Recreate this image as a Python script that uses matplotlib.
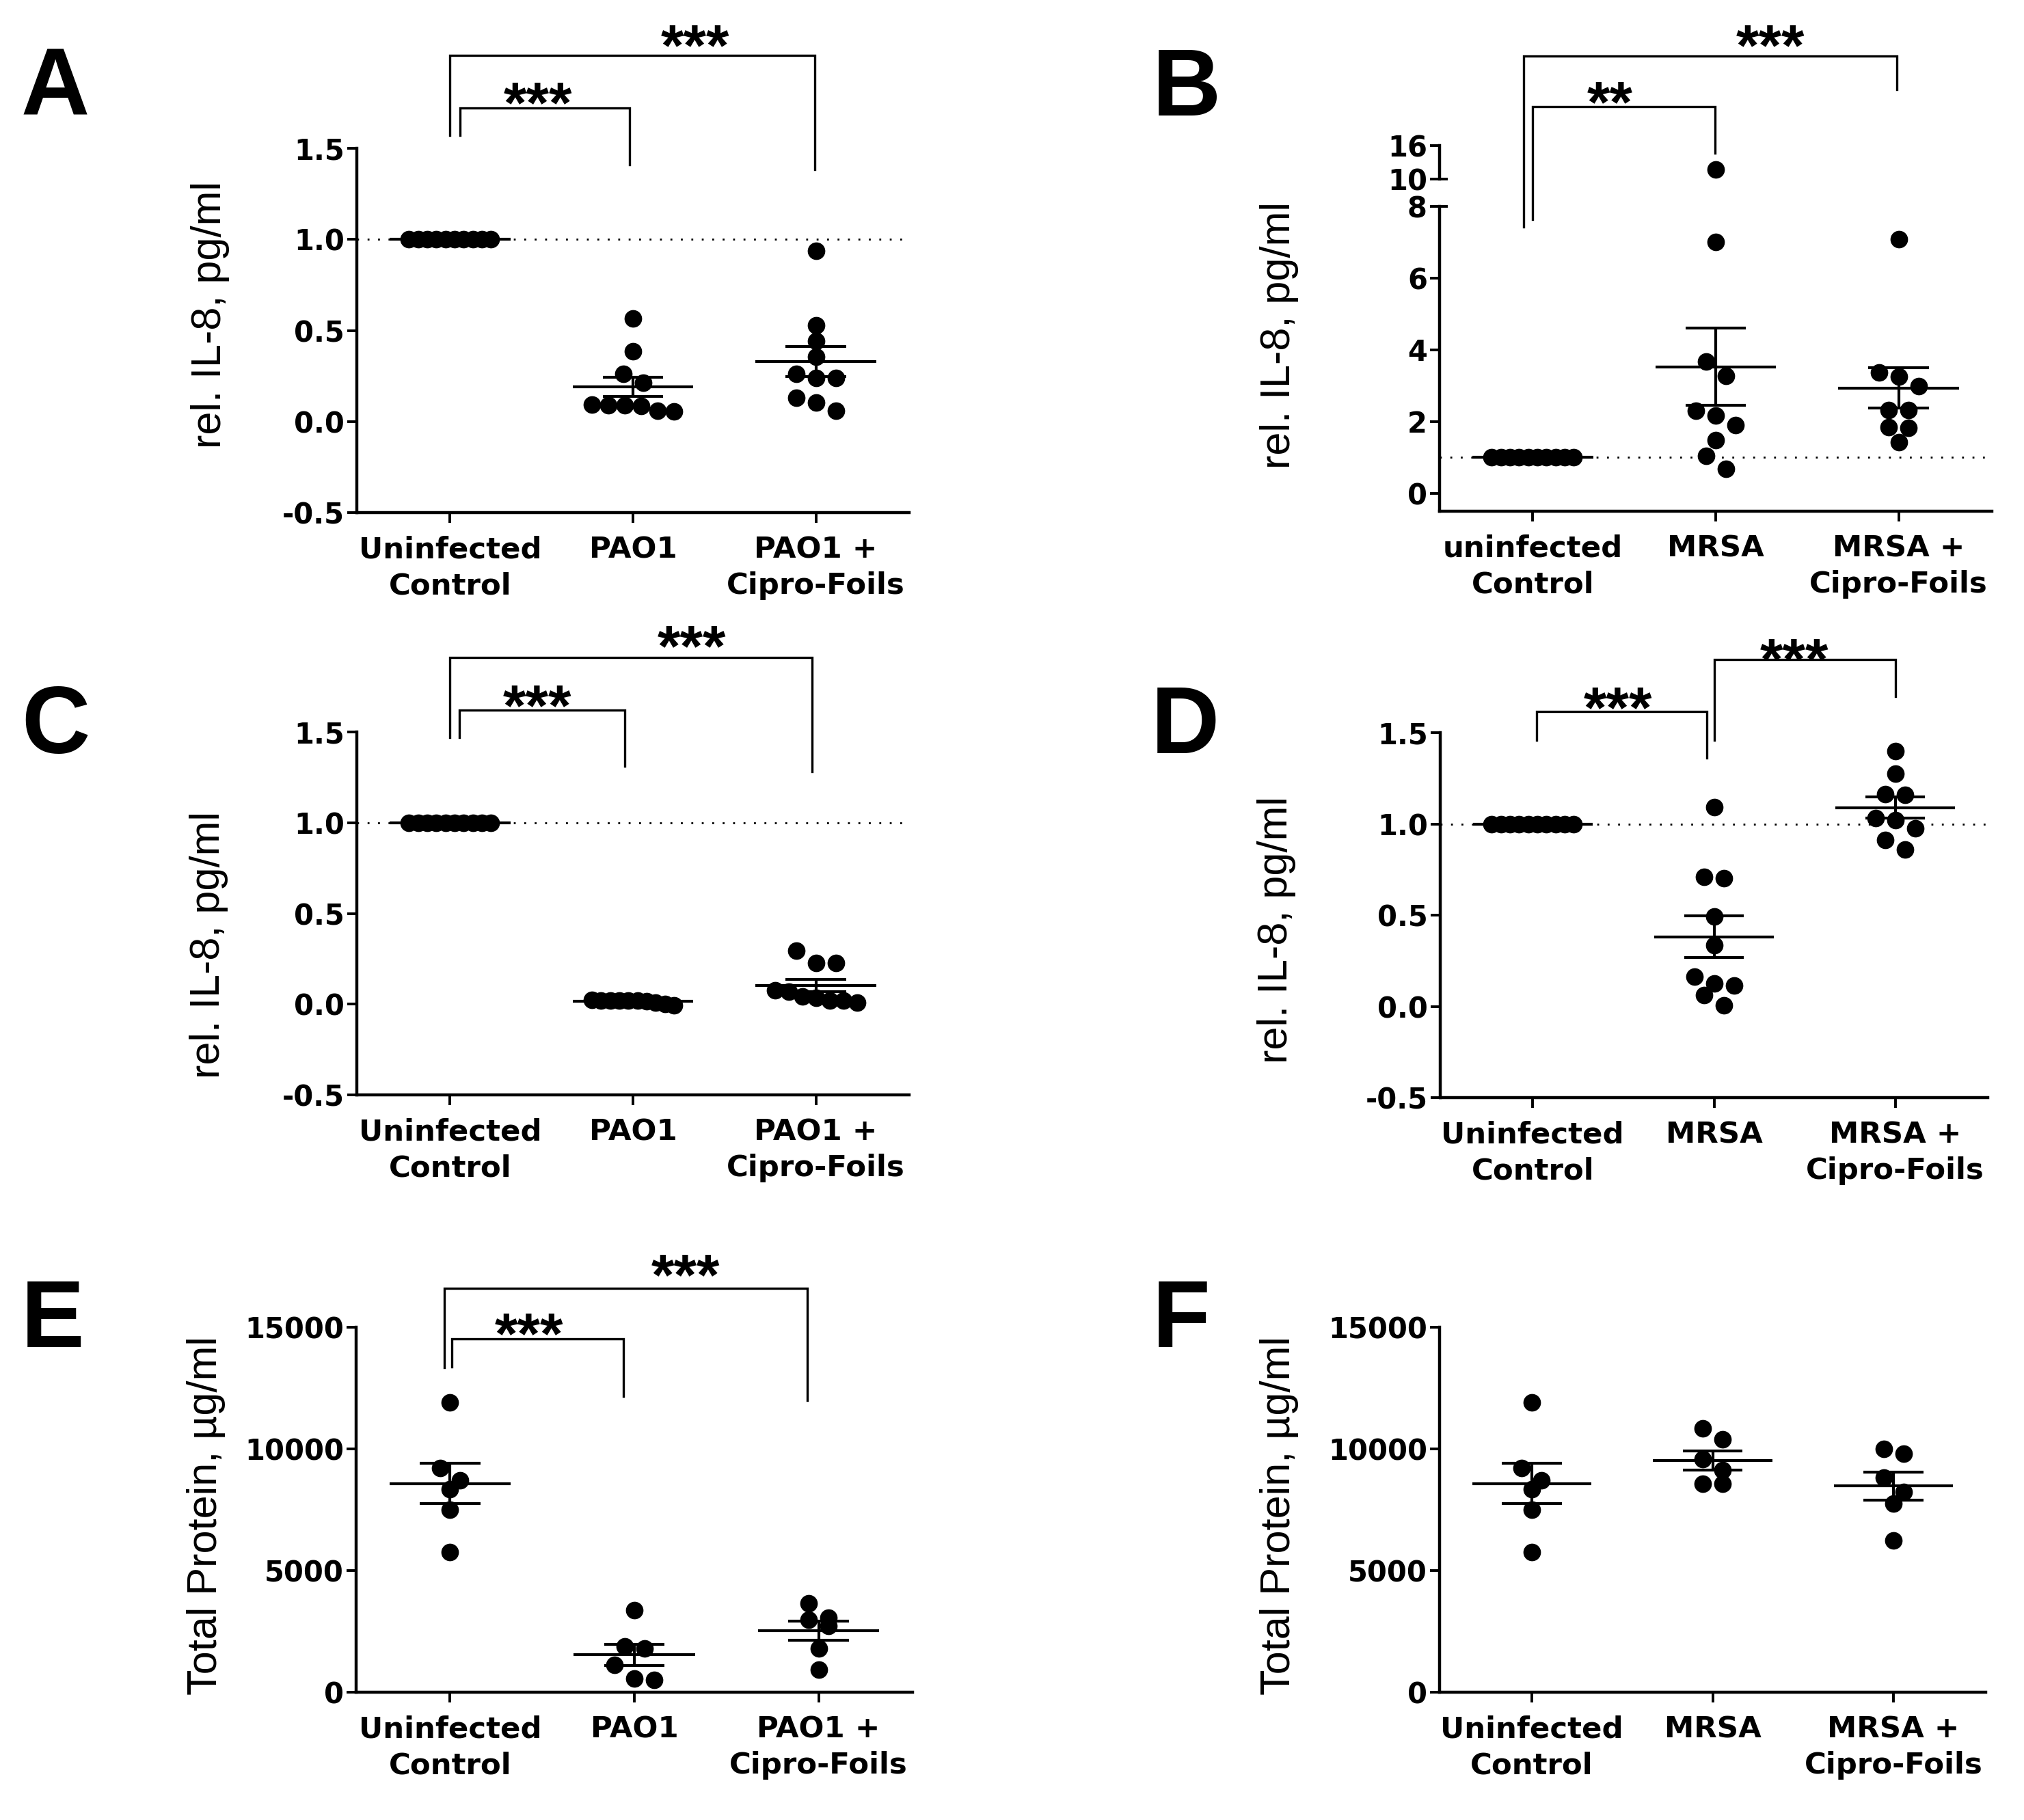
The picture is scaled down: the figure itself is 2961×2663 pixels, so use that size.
import numpy as np
import matplotlib
matplotlib.use("Agg")
import matplotlib.pyplot as plt
from matplotlib import transforms

plt.rcParams['axes.unicode_minus'] = False

# ---------------- data ----------------
cats_pao1 = ["Uninfected\nControl", "PAO1", "PAO1 +\nCipro-Foils"]
cats_mrsa_b = ["uninfected\nControl", "MRSA", "MRSA +\nCipro-Foils"]
cats_mrsa = ["Uninfected\nControl", "MRSA", "MRSA +\nCipro-Foils"]

a_control = [1.0] * 10
a_pao1 = [0.564, 0.387, 0.263, 0.212, 0.094, 0.090, 0.090, 0.086, 0.059, 0.056]
a_cipro = [0.937, 0.529, 0.441, 0.356, 0.260, 0.238, 0.238, 0.130, 0.105, 0.059]

b_control = [1.0] * 10
b_mrsa = [11.7, 7.0, 3.68, 3.28, 2.31, 2.17, 1.91, 1.49, 1.05, 0.69]
b_cipro = [7.09, 3.37, 3.26, 2.99, 2.33, 2.33, 1.84, 1.82, 1.42]

c_control = [1.0] * 10
c_pao1 = [0.025, 0.020, 0.020, 0.020, 0.020, 0.018, 0.015, 0.010, 0.000, -0.005]
c_cipro = [0.296, 0.226, 0.226, 0.078, 0.068, 0.043, 0.034, 0.018, 0.018, 0.009]

d_control = [1.0] * 10
d_mrsa = [1.093, 0.711, 0.704, 0.493, 0.337, 0.164, 0.124, 0.115, 0.061, 0.007]
d_cipro = [1.40, 1.275, 1.164, 1.161, 1.033, 1.021, 0.977, 0.911, 0.86]

e_control = [11900, 9220, 8720, 8330, 7500, 5750]
e_pao1 = [3380, 1870, 1800, 1110, 575, 505]
e_cipro = [3660, 3060, 2970, 2730, 1800, 935]

f_control = [11900, 9220, 8720, 8330, 7500, 5750]
f_mrsa = [10850, 10390, 9580, 9120, 8580, 8580]
f_cipro = [10010, 9800, 8810, 8230, 7760, 6250]

il8_ticks = [-0.5, 0.0, 0.5, 1.0, 1.5]
il8_ticklabels = ["-0.5", "0.0", "0.5", "1.0", "1.5"]
b_low_ticks = [0, 2, 4, 6, 8]
b_high_ticks = [10, 16]
prot_ticks = [0, 5000, 10000, 15000]

il8_label = "rel. IL-8, pg/ml"
prot_label = "Total Protein, \u00b5g/ml"

# ---------------- figure ----------------
W, H = 2961, 2663
fig = plt.figure(figsize=(W / 100, H / 100), dpi=100)

YTICKFONT = dict(family="DejaVu Sans", weight="bold", size=30)
XTICKFONT = dict(family="DejaVu Sans", weight="bold", size=31.3)
LW_SPINE = 3.2
LW_MARK = 3.0


def px_axes(left, top, right, bottom):
    ax = fig.add_axes([left / W, 1 - bottom / H, (right - left) / W, (bottom - top) / H])
    ax.set_facecolor("none")
    return ax


def style(ax, ylim, yticks, ylabels, cats=None):
    for s in ["top", "right"]:
        ax.spines[s].set_visible(False)
    ax.spines["left"].set_linewidth(LW_SPINE)
    ax.spines["bottom"].set_linewidth(LW_SPINE)
    ax.set_xlim(-0.51, 2.51)
    ax.set_ylim(*ylim)
    ax.set_yticks(yticks)
    ax.set_yticklabels(ylabels, fontdict=YTICKFONT)
    ax.tick_params(axis="y", length=10, width=2.8, pad=3)
    if cats is not None:
        ax.set_xticks([0, 1, 2])
        ax.set_xticklabels(cats, fontdict=XTICKFONT, linespacing=1.33)
        ax.tick_params(axis="x", length=11, width=2.8, pad=13)
    else:
        ax.set_xticks([])


def swarm_offsets(ax, vals, d_px=24, base=29, maxspan=120):
    vals = np.asarray(vals, float)
    p0 = ax.transData.transform((0, 0))
    p1 = ax.transData.transform((1, 1))
    xpx = p1[0] - p0[0]
    ypx = p1[1] - p0[1]
    order = np.argsort(-vals, kind="stable")
    offs = np.zeros(len(vals))
    i = 0
    while i < len(order):
        start = vals[order[i]]
        row = [order[i]]
        j = i + 1
        while j < len(order) and (start - vals[order[j]]) * ypx < 0.9 * d_px:
            row.append(order[j])
            j += 1
        k = len(row)
        if k > 1:
            sp = min(base, maxspan / (k - 1))
            pos = (np.arange(k) - (k - 1) / 2) * sp
            for idx, p in zip(row, pos):
                offs[idx] = p / xpx
        i = j
    return offs


def draw_group(ax, x, vals, offs, stats=True):
    vals = np.asarray(vals, float)
    ax.plot(x + offs, vals, "o", ms=17.5, color="black", mec="black", zorder=3, clip_on=True)
    if not stats:
        return
    m = vals.mean()
    sem = vals.std(ddof=1) / np.sqrt(len(vals))
    kw = dict(color="black", lw=LW_MARK, zorder=4, solid_capstyle="butt")
    ax.plot([x - 0.33, x + 0.33], [m, m], **kw)
    ax.plot([x - 0.165, x + 0.165], [m + sem, m + sem], **kw)
    ax.plot([x - 0.165, x + 0.165], [m - sem, m - sem], **kw)
    ax.plot([x, x], [m - sem, m + sem], **kw)


def bracket(ax, xl, xr, ytop, ylb, yrb):
    ax.plot([xl, xl, xr, xr], [ylb, ytop, ytop, yrb], color="black", lw=2.4,
            clip_on=False, solid_joinstyle="miter", zorder=5)


def stars(ax, x, y, s, fs=62):
    tr = transforms.offset_copy(ax.transData, fig=fig, y=-0.57 * fs, units="points")
    ax.text(x, y, s, transform=tr, ha="center", va="baseline", fontsize=fs,
            family="Liberation Sans", fontweight="bold", clip_on=False)


def ylabel_px(x, y, s):
    fig.text(x / W, 1 - y / H, s, rotation=90, ha="center", va="center",
             fontsize=44, family="Liberation Sans")


def letter_px(x, y, s):
    fig.text(x / W, 1 - y / H, s, ha="left", va="baseline", fontsize=100,
             fontweight="bold", family="Liberation Sans")


def refline(ax):
    ax.axhline(1.0, color="black", lw=2.0, ls=(0, (1, 4.5)), zorder=1)


def fill_panel(ax, groups):
    for x, vals in enumerate(groups):
        draw_group(ax, x, vals, swarm_offsets(ax, vals))


# ---------------- panel A ----------------
axA = px_axes(522, 217, 1330, 750)
style(axA, (-0.5, 1.5), il8_ticks, il8_ticklabels, cats_pao1)
refline(axA)
fill_panel(axA, [a_control, a_pao1, a_cipro])
bracket(axA, 0.056, 0.98, 1.72, 1.57, 1.41)
bracket(axA, 0.0, 1.995, 2.01, 1.57, 1.384)
stars(axA, 0.48, 1.826, "***")
stars(axA, 1.34, 2.14, "***")

# ---------------- panel C ----------------
axC = px_axes(522, 1071, 1330, 1602)
style(axC, (-0.5, 1.5), il8_ticks, il8_ticklabels, cats_pao1)
refline(axC)
fill_panel(axC, [c_control, c_pao1, c_cipro])
bracket(axC, 0.05, 0.957, 1.62, 1.47, 1.31)
bracket(axC, 0.0, 1.98, 1.91, 1.47, 1.28)
stars(axC, 0.475, 1.72, "***")
stars(axC, 1.32, 2.05, "***")

# ---------------- panel E ----------------
axE = px_axes(521, 1942, 1335, 2476)
style(axE, (0, 15000), prot_ticks, [str(t) for t in prot_ticks], cats_pao1)
fill_panel(axE, [e_control, e_pao1, e_cipro])
bracket(axE, 0.01, 0.94, 14515, 13366, 12169)
bracket(axE, -0.03, 1.94, 16600, 13350, 12000)
stars(axE, 0.43, 15296, "***")
stars(axE, 1.28, 17718, "***")

# ---------------- panel B (broken axis) ----------------
axB = px_axes(2106, 302, 2914, 748)
style(axB, (-0.5, 8), b_low_ticks, [str(t) for t in b_low_ticks], cats_mrsa_b)
axBt = px_axes(2106, 213, 2914, 262)
style(axBt, (10, 16), b_high_ticks, [str(t) for t in b_high_ticks], None)
axBt.spines["bottom"].set_visible(False)
refline(axB)
for x, vals in enumerate([b_control, b_mrsa, b_cipro]):
    offs = swarm_offsets(axB, vals)
    draw_group(axB, x, vals, offs)
    draw_group(axBt, x, vals, offs, stats=False)
brk = transforms.blended_transform_factory(axB.transAxes, axB.transData)
axB.plot([0, 12 / 808], [8, 8], transform=brk, color="black", lw=2.8, clip_on=False,
         solid_capstyle="butt")
brk2 = transforms.blended_transform_factory(axBt.transAxes, axBt.transData)
axBt.plot([0, 12 / 808], [10, 10], transform=brk2, color="black", lw=2.8, clip_on=False,
          solid_capstyle="butt")
bracket(axB, 0.0, 0.996, 10.78, 7.64, 9.49)
bracket(axB, -0.05, 1.99, 12.19, 7.43, 11.26)
stars(axB, 0.42, 11.3, "**")
stars(axB, 1.30, 12.88, "***")

# ---------------- panel D ----------------
axD = px_axes(2107, 1072, 2908, 1606)
style(axD, (-0.5, 1.5), il8_ticks, il8_ticklabels, cats_mrsa)
refline(axD)
fill_panel(axD, [d_control, d_mrsa, d_cipro])
bracket(axD, 0.02, 0.96, 1.616, 1.46, 1.36)
bracket(axD, 1.0, 2.0, 1.90, 1.46, 1.70)
stars(axD, 0.47, 1.713, "***")
stars(axD, 1.445, 1.98, "***")

# ---------------- panel F ----------------
axF = px_axes(2106, 1942, 2905, 2476)
style(axF, (0, 15000), prot_ticks, [str(t) for t in prot_ticks], cats_mrsa)
fill_panel(axF, [f_control, f_mrsa, f_cipro])

# ---------------- labels ----------------
ylabel_px(308, 460, il8_label)
ylabel_px(1872, 491, il8_label)
ylabel_px(306, 1382, il8_label)
ylabel_px(1868, 1361, il8_label)
ylabel_px(301, 2217, prot_label)
ylabel_px(1872, 2217, prot_label)

letter_px(31, 169, "A")
letter_px(1686, 169, "B")
letter_px(31, 1102, "C")
letter_px(1684, 1102, "D")
letter_px(31, 1971, "E")
letter_px(1686, 1971, "F")

fig.savefig("out.png", dpi=100)
